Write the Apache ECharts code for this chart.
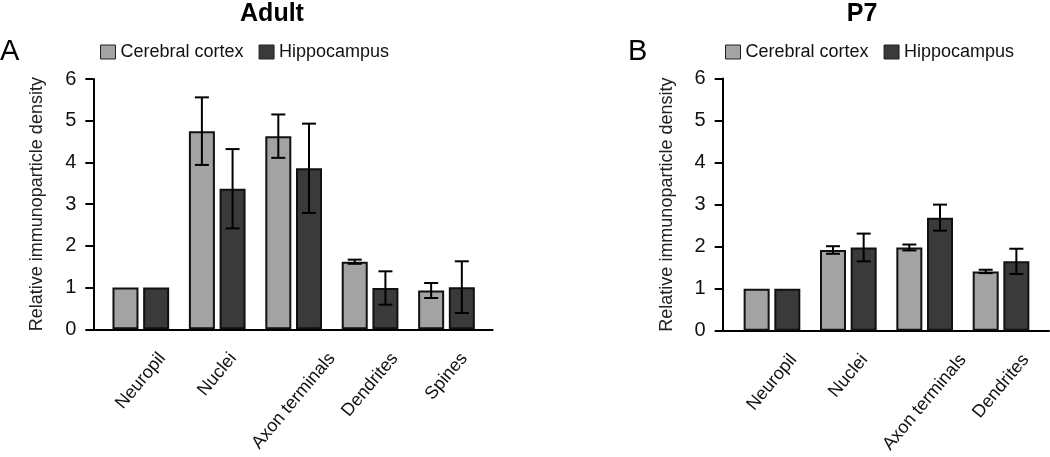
<!DOCTYPE html>
<html>
<head>
<meta charset="utf-8">
<script src="https://cdn.jsdelivr.net/npm/echarts@6/dist/echarts.min.js"></script>
<style>
html,body{margin:0;padding:0;background:#fff;}
#chart{width:1050px;height:457px;}
</style>
</head>
<body>
<div id="chart"></div>
<script>
// ---- data ----
const seriesNames = ['Cerebral cortex', 'Hippocampus'];
const yTicks = [0, 1, 2, 3, 4, 5, 6];

const adultCategories = ['Neuropil', 'Nuclei', 'Axon terminals', 'Dendrites', 'Spines'];
const adultCortex = [1.0, 4.75, 4.63, 1.62, 0.93];
const adultCortexErr = [0, 0.81, 0.52, 0.05, 0.18];
const adultHippo = [1.0, 3.37, 3.86, 0.99, 1.01];
const adultHippoErr = [0, 0.95, 1.07, 0.40, 0.62];

const p7Categories = ['Neuropil', 'Nuclei', 'Axon terminals', 'Dendrites'];
const p7Cortex = [1.0, 1.92, 1.98, 1.41];
const p7CortexErr = [0, 0.09, 0.07, 0.04];
const p7Hippo = [1.0, 1.98, 2.69, 1.65];
const p7HippoErr = [0, 0.33, 0.31, 0.30];

// ---- style ----
const FONT = '"Liberation Sans", Arial, Helvetica, sans-serif';
const COL_CC = '#a3a3a3';
const COL_HC = '#3a3a3a';
const BAR_W = 26;
const BAR_GAP = 0.18;
const CAP = 14;
const LABEL_SIZE = 18;
const ROT = 50;

const mctx = document.createElement('canvas').getContext('2d');
mctx.font = LABEL_SIZE + 'px "Liberation Sans"';
function richFor(cats) {
  const rich = {};
  const t = ROT * Math.PI / 180;
  cats.forEach((c, i) => {
    const L = mctx.measureText(c).width;
    rich['c' + i] = {
      fontSize: LABEL_SIZE, fontFamily: FONT, color: '#111',
      padding: [L * Math.sin(t) * Math.cos(t), L * Math.sin(t) * Math.sin(t), 0, 0]
    };
  });
  return rich;
}

function errData(vals, errs) {
  const out = [];
  vals.forEach((v, i) => { if (errs[i] > 0) out.push([i, v, errs[i]]); });
  return out;
}

function errSeries(name, gridAxis, vals, errs, side) {
  const shift = side * BAR_W * (1 + BAR_GAP) / 2;
  return {
    type: 'custom', name: name, xAxisIndex: gridAxis, yAxisIndex: gridAxis, z: 10,
    encode: { x: 0, y: 1 },
    data: errData(vals, errs),
    renderItem: function (params, api) {
      const idx = api.value(0), v = api.value(1), e = api.value(2);
      const top = api.coord([idx, v + e]);
      const bot = api.coord([idx, v - e]);
      const x = top[0] + shift;
      const st = { stroke: '#000', lineWidth: 2 };
      return {
        type: 'group', children: [
          { type: 'line', shape: { x1: x, y1: top[1], x2: x, y2: bot[1] }, style: st },
          { type: 'line', shape: { x1: x - CAP / 2, y1: top[1], x2: x + CAP / 2, y2: top[1] }, style: st },
          { type: 'line', shape: { x1: x - CAP / 2, y1: bot[1], x2: x + CAP / 2, y2: bot[1] }, style: st }
        ]
      };
    }
  };
}

function barSeries(name, gridAxis, vals, color) {
  return {
    type: 'bar', name: name, xAxisIndex: gridAxis, yAxisIndex: gridAxis,
    data: vals, barWidth: BAR_W, barGap: (BAR_GAP * 100) + '%',
    itemStyle: { color: color, borderColor: '#111', borderWidth: 2 },
    emphasis: { disabled: true }
  };
}

function catXAxis(gridIndex, cats) {
  return {
    type: 'category', gridIndex: gridIndex, data: cats,
    axisLine: { show: false }, axisTick: { show: false },
    axisLabel: {
      interval: 0, rotate: ROT, align: 'center', verticalAlign: 'middle', margin: 26,
      hideOverlap: false,
      formatter: function (v, i) { return '{c' + i + '|' + v + '}'; },
      rich: richFor(cats)
    }
  };
}
function hiddenY(gridIndex) {
  return { type: 'value', gridIndex: gridIndex, min: 0, max: 6, interval: 1, show: false };
}
function frameX(gridIndex) {
  return {
    type: 'value', gridIndex: gridIndex, min: 0, max: 1,
    axisLine: { show: true, lineStyle: { color: '#000', width: 2 } },
    axisTick: { show: false }, axisLabel: { show: false }, splitLine: { show: false }
  };
}
function frameY(gridIndex) {
  return {
    type: 'value', gridIndex: gridIndex, min: yTicks[0], max: yTicks[yTicks.length - 1], interval: 1,
    name: 'Relative immunoparticle density', nameLocation: 'middle', nameGap: 47,
    nameTextStyle: { fontSize: 18, fontFamily: FONT, color: '#222' },
    axisLine: { show: true, lineStyle: { color: '#000', width: 2 } },
    axisTick: { show: true, length: 8, lineStyle: { color: '#000', width: 2 } },
    axisLabel: { fontSize: 20, fontFamily: FONT, color: '#111', margin: 17 },
    splitLine: { show: false }
  };
}

const titleStyle = { fontSize: 25, fontWeight: 'bold', fontFamily: FONT, color: '#000' };
const letterStyle = { fontSize: 29, fontWeight: 'normal', fontFamily: FONT, color: '#000' };
const legendBase = {
  data: seriesNames, top: 43, icon: 'rect', itemWidth: 15, itemHeight: 14, itemGap: 15, padding: 0,
  textStyle: { fontSize: 18, fontFamily: FONT, color: '#111' },
  itemStyle: { borderColor: '#222', borderWidth: 1 }, selectedMode: false
};

const option = {
  backgroundColor: '#fff',
  animation: false,
  title: [
    { text: 'Adult', left: 272, textAlign: 'center', top: 2, padding: 0, textStyle: titleStyle },
    { text: 'P7', left: 862, textAlign: 'center', top: 2, padding: 0, textStyle: titleStyle },
    { text: 'A', left: 0, top: 37, padding: 0, textStyle: letterStyle },
    { text: 'B', left: 628, top: 37, padding: 0, textStyle: letterStyle }
  ],
  legend: [
    Object.assign({}, legendBase, { left: 100 }),
    Object.assign({}, legendBase, { left: 725 })
  ],
  grid: [
    { left: 102.6, right: 1050 - 484.7, top: 79, bottom: 457 - 329.3 },
    { left: 93.3, right: 1050 - 492.7, top: 79, bottom: 457 - 329.3 },
    { left: 733.8, right: 1050 - 1039.2, top: 78.5, bottom: 457 - 330.7 },
    { left: 722.7, right: 1050 - 1049, top: 78.5, bottom: 457 - 330.7 }
  ],
  xAxis: [catXAxis(0, adultCategories), frameX(1), catXAxis(2, p7Categories), frameX(3)],
  yAxis: [hiddenY(0), frameY(1), hiddenY(2), frameY(3)],
  series: [
    barSeries(seriesNames[0], 0, adultCortex, COL_CC),
    barSeries(seriesNames[1], 0, adultHippo, COL_HC),
    errSeries('err-adult-cc', 0, adultCortex, adultCortexErr, -1),
    errSeries('err-adult-hc', 0, adultHippo, adultHippoErr, 1),
    barSeries(seriesNames[0], 2, p7Cortex, COL_CC),
    barSeries(seriesNames[1], 2, p7Hippo, COL_HC),
    errSeries('err-p7-cc', 2, p7Cortex, p7CortexErr, -1),
    errSeries('err-p7-hc', 2, p7Hippo, p7HippoErr, 1)
  ]
};

const chart = echarts.init(document.getElementById('chart'), null, { renderer: 'canvas' });
chart.setOption(option);
</script>
</body>
</html>
